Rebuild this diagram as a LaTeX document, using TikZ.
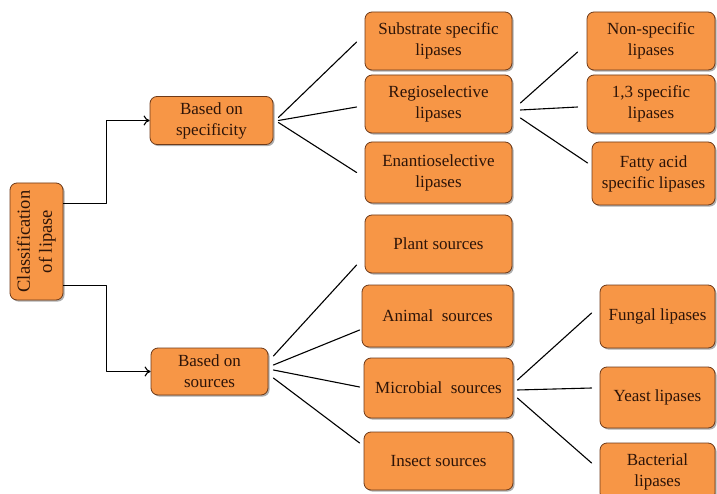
\documentclass[tikz,border=0pt]{standalone}
\usepackage{fontspec}
\setmainfont{Liberation Serif}
\newfontfamily\boxfont{Liberation Serif}
\usetikzlibrary{arrows.meta,shadows}
\definecolor{boxfill}{RGB}{247,150,70}
\definecolor{boxline}{RGB}{110,58,25}
\definecolor{boxtext}{RGB}{45,20,8}
\tikzset{
 box/.style={draw=boxline,line width=.8pt,fill=boxfill,rounded corners=7pt,text=boxtext,align=center,inner sep=1pt,
  font=\boxfont\fontsize{17}{21}\selectfont,drop shadow={shadow xshift=1.6pt,shadow yshift=-1.6pt,opacity=.45,fill=black!70}},
 link/.style={line width=1.1pt,line cap=round},
 arr/.style={line width=1.1pt,-{To[length=6pt,width=10pt]}}
}
\begin{document}
\begin{tikzpicture}[x=1pt,y=-1pt,line join=round]
 \useasboundingbox (0,0) rectangle (717,494);
 % root and the two criteria
 \node[box,minimum width=53pt,minimum height=117pt,font=\boxfont\fontsize{18.5}{22}\selectfont] (root) at (36.5,241.5)
  {\rotatebox{90}{\begin{tabular}{@{}c@{}}Classification\\of lipase\end{tabular}}};
 \node[box,minimum width=123pt,minimum height=48pt] (spec) at (211.5,120.5) {Based on\\specificity};
 \node[box,minimum width=117pt,minimum height=47pt] (src) at (209.5,371.5) {Based on\\sources};
 \draw[arr] ([shift={(0,-38)}]root.east) -- ++(43.5,0) |- (spec.west);
 \draw[arr] ([shift={(0,44)}]root.east) -- ++(43.5,0) |- (src.west);

 % by specificity
 \node[box,minimum width=147pt,minimum height=58pt] (sub) at (438.5,41) {Substrate specific\\lipases};
 \node[box,minimum width=147pt,minimum height=58pt] (regio) at (438.5,104) {Regioselective\\lipases};
 \node[box,minimum width=147pt,minimum height=61pt] (enan) at (438.5,172.5) {Enantioselective\\lipases};
 \draw[link] ([shift={(5,-3)}]spec.east) -- ([shift={(-8,1)}]sub.west);
 \draw[link] ([shift={(5,0)}]spec.east) -- ([shift={(-8,3)}]regio.west);
 \draw[link] ([shift={(5,2)}]spec.east) -- ([shift={(-8,0)}]enan.west);

 \node[box,minimum width=128pt,minimum height=58pt] (nonsp) at (651,41) {Non-specific\\lipases};
 \node[box,minimum width=128pt,minimum height=58pt] (onethree) at (651,104) {1,3 specific\\lipases};
 \node[box,minimum width=123pt,minimum height=63pt] (fatty) at (653.5,173.5) {Fatty acid\\specific lipases};
 \draw[link] ([shift={(8,-1)}]regio.east) -- ([shift={(-9,11)}]nonsp.west);
 \draw[link] ([shift={(8,6)}]regio.east) -- ([shift={(-9,3)}]onethree.west);
 \draw[link] ([shift={(8,14)}]regio.east) -- ([shift={(-4,-10.5)}]fatty.west);

 % by sources
 \node[box,minimum width=147pt,minimum height=58pt] (plant) at (438.5,244) {Plant sources};
 \node[box,minimum width=151pt,minimum height=62pt] (animal) at (437.5,316) {Animal\ \ sources};
 \node[box,minimum width=149pt,minimum height=60pt] (micro) at (438.5,388) {Microbial\ \ sources};
 \node[box,minimum width=149pt,minimum height=58pt] (insect) at (438.5,461) {Insect sources};
 \draw[link] ([shift={(5,-15.5)}]src.east) -- ([shift={(-8,21)}]plant.west);
 \draw[link] ([shift={(5,-6.5)}]src.east) -- ([shift={(-2,14)}]animal.west);
 \draw[link] ([shift={(5,-1.5)}]src.east) -- ([shift={(-4,-1)}]micro.west);
 \draw[link] ([shift={(5,6.5)}]src.east) -- ([shift={(-4,-18)}]insect.west);

 \node[box,minimum width=115pt,minimum height=63pt] (fungal) at (657.5,316.5) {Fungal lipases};
 \node[box,minimum width=115pt,minimum height=61pt] (yeast) at (657.5,397.5) {Yeast lipases};
 \node[box,minimum width=115pt,minimum height=57pt] (bact) at (657.5,471.5) {Bacterial\\lipases};
 \draw[link] ([shift={(4,-8)}]micro.east) -- ([shift={(-8,-3.5)}]fungal.west);
 \draw[link] ([shift={(4,2)}]micro.east) -- ([shift={(-8,-9.5)}]yeast.west);
 \draw[link] ([shift={(4,10)}]micro.east) -- ([shift={(-8,-8.5)}]bact.west);
\end{tikzpicture}
\end{document}
